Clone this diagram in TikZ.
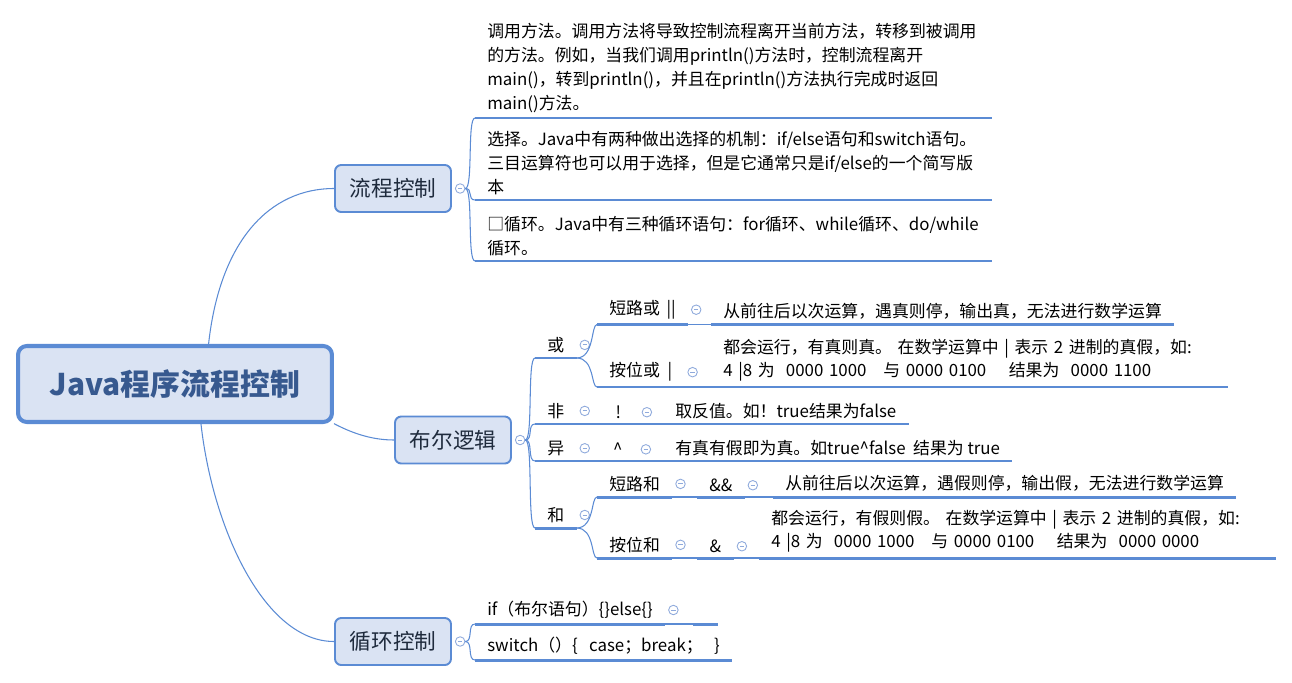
\documentclass[tikz,border=0pt]{standalone}
\usepackage{fontspec}
\setmainfont{Noto Sans CJK SC}
\usetikzlibrary{positioning}
\definecolor{lineblue}{HTML}{5B8BD4}
\definecolor{fillblue}{HTML}{DAE3F3}
\definecolor{roottext}{HTML}{37598F}
\definecolor{maintext}{HTML}{1F2B3D}
\definecolor{markblue}{HTML}{8FAADC}
\tikzset{
	root/.style={draw=lineblue, line width=2.3pt, fill=fillblue, rounded corners=5pt, minimum width=6.28cm, minimum height=1.52cm, text=roottext, font=\fontsize{17}{20}\selectfont\bfseries},
	main/.style={draw=lineblue, line width=1.1pt, fill=fillblue, rounded corners=3.5pt, minimum width=2.32cm, minimum height=0.94cm, text=maintext, font=\fontsize{12.3}{15}\selectfont},
	topic/.style={anchor=south west, inner xsep=0.24cm, inner ysep=0.1cm, align=left, font=\fontsize{9.6}{13.6}\selectfont},
	wrap/.style={text width=9.84cm},
	marker/.style={circle, draw=markblue, line width=0.5pt, fill=white, inner sep=0pt, minimum size=0.19cm,
		path picture={\draw[markblue, line width=0.5pt] ([xshift=0.05cm]path picture bounding box.west) -- ([xshift=-0.05cm]path picture bounding box.east);}},
	link/.style={draw=lineblue, line width=0.6pt},
	uline/.style={draw=lineblue, line width=1.7pt},
	branch/.style={to path={.. controls +(8,0) and +(-8,0) .. (\tikztotarget)}},
	subbranch/.style={to path={.. controls +(18,0) and +(-6,0) .. (\tikztotarget)}}
}
\begin{document}
\begin{tikzpicture}[x=0.02cm, y=-0.02cm]
	\useasboundingbox (0,0) rectangle (1292,683);

	\node[root] (root) at (175, 384) {Java程序流程控制};
	\node[main] (lc) at (393, 188.5) {流程控制};
	\node[main] (be) at (453, 440) {布尔逻辑};
	\node[main] (xh) at (393, 641.5) {循环控制};

	\draw[link] (root.50) .. controls (220, 240) and (270, 188.5) .. (lc.west);
	\draw[link] (root.-14) .. controls (350, 432) and (370, 440) .. (be.west);
	\draw[link] (root.-57) .. controls (213, 530) and (265, 641.5) .. (xh.west);

	% 流程控制
	\node[topic, wrap] (b1) at (475, 118) {调用方法。调用方法将导致控制流程离开当前方法，转移到被调用\\的方法。例如，当我们调用println()方法时，控制流程离开\\main()，转到println()，并且在println()方法执行完成时返回\\main()方法。};
	\node[topic, wrap] (b2) at (475, 200) {选择。Java中有两种做出选择的机制：if/else语句和switch语句。\\三目运算符也可以用于选择，但是它通常只是if/else的一个简写版\\本};
	\node[topic, wrap] (b3) at (475, 261) {□循环。Java中有三种循环语句：for循环、while循环、do/while\\循环。};

	% 布尔逻辑
	\node[topic] (huo) at (535, 358) {或};
	\node[topic] (fei) at (535, 424) {非};
	\node[topic] (yi) at (535, 461) {异};
	\node[topic] (he) at (535, 528) {和};

	\node[topic] (dlh) at (597, 324.5) {短路或\ \,||};
	\node[topic] (awh) at (597, 387) {按位或\ \ |};
	\node[topic] (dlh-t) at (711, 324.5) {从前往后以次运算，遇真则停，输出真，无法进行数学运算};
	\node[topic, wrap] (awh-t) at (711, 387) {都会运行，有真则真。 在数学运算中 | 表示 2 进制的真假，如:\\4 |8 为\ \ 0000 1000\ \ \ 与 0000 0100\ \ \ \ 结果为\ \ 0000 1100};

	\node[topic, minimum width=0.8cm] (tanhao) at (598, 424) {!};
	\node[topic] (fei-t) at (663, 424) {取反值。如！true结果为false};
	\node[topic, minimum width=0.78cm] (jian) at (598, 461) {\textasciicircum};
	\node[topic] (yi-t) at (663, 461) {有真有假即为真。如true\textasciicircum{}false\ \ 结果为 true};

	\node[topic] (dlhe) at (597, 497) {短路和};
	\node[topic] (awhe) at (597, 558) {按位和};
	\node[topic] (yuyu) at (697, 497) {\&\&};
	\node[topic, minimum width=0.72cm] (yu) at (697, 558) {\&};
	\node[topic] (dlhe-t) at (773, 497) {从前往后以次运算，遇假则停，输出假，无法进行数学运算};
	\node[topic, wrap] (awhe-t) at (759, 558) {都会运行，有假则假。 在数学运算中 | 表示 2 进制的真假，如:\\4 |8 为\ \ 0000 1000\ \ \ 与 0000 0100\ \ \ \ 结果为\ \ 0000 0000};

	% 循环控制
	\node[topic] (ifel) at (475, 624) {if（布尔语句）\{\}else\{\}};
	\node[topic, minimum width=0.44cm] (ifel-x) at (693, 624) {};
	\node[topic] (swch) at (475, 660) {switch（）\{\ \ \ case；break；\ \ \ \}};

	% markers
	\node[marker, right=0.06cm of lc] (lc-m) {};
	\node[marker, right=0.06cm of be] (be-m) {};
	\node[marker, right=0.06cm of xh] (xh-m) {};
	\node[marker, right=0.06cm of huo] (huo-m) {};
	\node[marker, right=0.06cm of fei] (fei-m) {};
	\node[marker, right=0.06cm of yi] (yi-m) {};
	\node[marker, right=0.06cm of he] (he-m) {};
	\node[marker, right=0.06cm of dlh] (dlh-m) {};
	\node[marker, right=0.06cm of awh] (awh-m) {};
	\node[marker, right=0.06cm of tanhao] (tanhao-m) {};
	\node[marker, right=0.06cm of jian] (jian-m) {};
	\node[marker, right=0.06cm of dlhe] (dlhe-m) {};
	\node[marker, right=0.06cm of awhe] (awhe-m) {};
	\node[marker, right=0.06cm of yuyu] (yuyu-m) {};
	\node[marker, right=0.06cm of yu] (yu-m) {};
	\node[marker, right=0.06cm of ifel] (ifel-m) {};

	% branches
	\draw[link] (lc-m.east) to[branch] (b1.south west);
	\draw[link] (lc-m.east) to[branch] (b2.south west);
	\draw[link] (lc-m.east) to[branch] (b3.south west);
	\draw[link] (be-m.east) to[branch] (huo.south west);
	\draw[link] (be-m.east) to[branch] (fei.south west);
	\draw[link] (be-m.east) to[branch] (yi.south west);
	\draw[link] (be-m.east) to[branch] (he.south west);
	\draw[link] (xh-m.east) to[branch] (ifel.south west);
	\draw[link] (xh-m.east) to[branch] (swch.south west);
	\draw[link] (huo.south east) to[subbranch] (dlh.south west);
	\draw[link] (huo.south east) to[subbranch] (awh.south west);
	\draw[link] (he.south east) to[subbranch] (dlhe.south west);
	\draw[link] (he.south east) to[subbranch] (awhe.south west);

	\draw[link] (dlh.south east) -- (dlh-t.south west);
	\draw[link] (awh.south east) -- (awh-t.south west);
	\draw[link] (fei.south east) -- (tanhao.south west);
	\draw[link] (tanhao.south east) -- (fei-t.south west);
	\draw[link] (yi.south east) -- (jian.south west);
	\draw[link] (jian.south east) -- (yi-t.south west);
	\draw[link] (dlhe.south east) -- (yuyu.south west);
	\draw[link] (yuyu.south east) -- (dlhe-t.south west);
	\draw[link] (awhe.south east) -- (yu.south west);
	\draw[link] (yu.south east) -- (awhe-t.south west);
	\draw[link] (ifel.south east) -- (ifel-x.south west);

	\foreach \n in {b1,b2,b3,huo,fei,yi,he,dlh,awh,dlh-t,awh-t,tanhao,fei-t,jian,yi-t,dlhe,awhe,yuyu,yu,dlhe-t,awhe-t,ifel,ifel-x,swch}
		\draw[uline] (\n.south west) -- (\n.south east);
\end{tikzpicture}
\end{document}
